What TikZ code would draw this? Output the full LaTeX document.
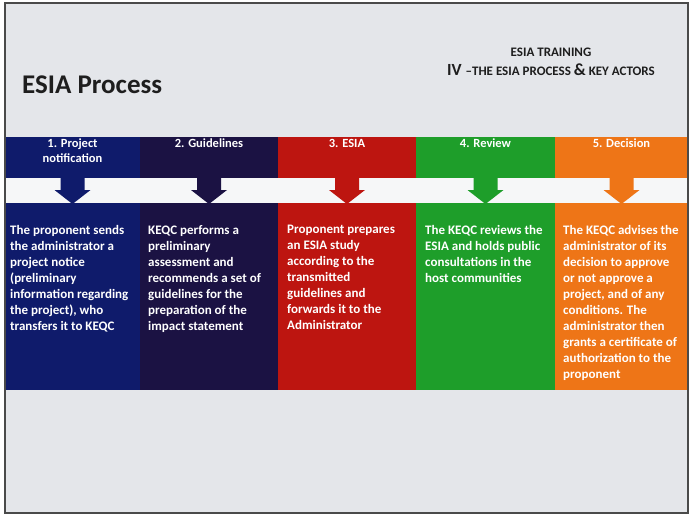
\documentclass[tikz,border=0pt]{standalone}
\usepackage{fontspec}
\setmainfont{Carlito}
\definecolor{slidebg}{HTML}{E4E6EA}
\definecolor{framegray}{HTML}{4A4A4A}
\definecolor{bandwhite}{HTML}{F6F7F8}
\definecolor{inkdark}{HTML}{1E1E1E}
\definecolor{colA}{HTML}{0F1B6B}
\definecolor{colB}{HTML}{1B1243}
\definecolor{colC}{HTML}{BD1510}
\definecolor{colD}{HTML}{1E9E2A}
\definecolor{colE}{HTML}{EE7517}
\begin{document}
\begin{tikzpicture}[x=1pt,y=-1pt,
  headlbl/.style={anchor=north, align=center, inner sep=0pt, text=white,
    font=\bfseries\fontsize{12.5}{15}\selectfont},
  bodytxt/.style={anchor=north west, align=left, inner sep=0pt, text=white,
    font=\bfseries\fontsize{13}{16}\selectfont},
  titletxt/.style={anchor=base west, inner sep=0pt, text=inkdark,
    font=\bfseries\fontsize{27}{31}\selectfont},
  toptxt/.style={anchor=base, inner sep=0pt, text=inkdark, font=\bfseries}]
\useasboundingbox (0,0) rectangle (693,520);
\fill[white] (0,0) rectangle (693,520);
\fill[slidebg] (5,3) rectangle (688,513);

% coloured process columns
\foreach \c/\xa/\xb in {colA/5/140, colB/140/278, colC/278/416, colD/416/555, colE/555/688}
  \fill[\c] (\xa,137) rectangle (\xb,390);

% white band crossing all columns
\fill[bandwhite] (5,178) rectangle (688,203);

% downward block arrows, one per column
\foreach \c/\xa/\xb in {colA/5/140, colB/140/278, colC/278/416, colD/416/555, colE/555/688}{
  \pgfmathsetmacro\m{(\xa+\xb)/2}
  \fill[\c] (\m-12,178) -- (\m+12,178) -- (\m+12,190) -- (\m+18,190)
    -- (\m,204) -- (\m-18,190) -- (\m-12,190) -- cycle;
}

\draw[framegray, line width=1.5pt] (5,3) rectangle (688,513);

% titles
\node[titletxt] (title) at (22,93) {ESIA Process};
\node[toptxt, font=\bfseries\fontsize{13}{15}\selectfont] (training) at (551,56) {ESIA TRAINING};
\node[toptxt] (subtitle) at (551,75)
  {{\fontsize{17}{19}\selectfont IV }{\fontsize{13}{15}\selectfont --THE ESIA PROCESS }{\fontsize{17}{19}\selectfont\&}{\fontsize{13}{15}\selectfont{} KEY ACTORS}};

% step headers
\node[headlbl] (h1) at (72.5,139) {1. Project\\notification};
\node[headlbl] (h2) at (209,139) {2. Guidelines};
\node[headlbl] (h3) at (347,139) {3. ESIA};
\node[headlbl] (h4) at (485.5,139) {4. Review};
\node[headlbl] (h5) at (621.5,139) {5. Decision};

% step descriptions
\node[bodytxt] (b1) at (10,225) {The proponent sends\\the administrator a\\project notice\\(preliminary\\information regarding\\the project), who\\transfers it to KEQC};
\node[bodytxt] (b2) at (148,225) {KEQC performs a\\preliminary\\assessment and\\recommends a set of\\guidelines for the\\preparation of the\\impact statement};
\node[bodytxt] (b3) at (287,225) {Proponent prepares\\an ESIA study\\according to the\\transmitted\\guidelines and\\forwards it to the\\Administrator};
\node[bodytxt] (b4) at (425,225) {The KEQC reviews the\\ESIA and holds public\\consultations in the\\host communities};
\node[bodytxt] (b5) at (563,225) {The KEQC advises the\\administrator of its\\decision to approve\\or not approve a\\project, and of any\\conditions. The\\administrator then\\grants a certificate of\\authorization to the\\proponent};
\end{tikzpicture}
\end{document}
